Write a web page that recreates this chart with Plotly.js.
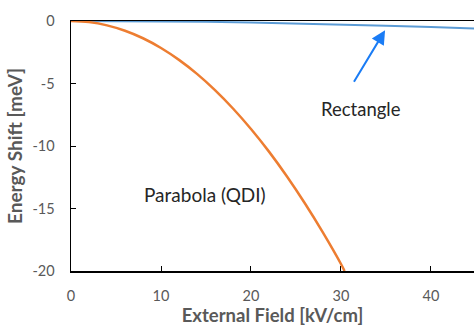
<!DOCTYPE html>
<html>
<head>
<meta charset="utf-8">
<script src="https://cdn.plot.ly/plotly-3.0.1.min.js"></script>
<style>html,body{margin:0;padding:0;background:#fff;}#chart{width:474px;height:327px;}</style>
</head>
<body>
<div id="chart"></div>
<script>
// External field [kV/cm]
const fieldParabola = [0, 2, 4, 6, 8, 10, 12, 14, 16, 18, 20, 22, 24, 26, 28, 30, 30.4];
// Energy shift [meV], parabolic (QDI) well
const shiftParabola = [0, -0.09, -0.35, -0.78, -1.38, -2.16, -3.11, -4.23, -5.53, -7.0, -8.64, -10.45, -12.44, -14.6, -16.93, -19.44, -20.0];
const fieldRectangle = [0, 5, 10, 15, 20, 25, 30, 35, 40, 45, 50];
// Energy shift [meV], rectangular well
const shiftRectangle = [0, -0.008, -0.03, -0.067, -0.12, -0.19, -0.27, -0.37, -0.48, -0.61, -0.75];
const xTicks = [0, 10, 20, 30, 40];
const yTicks = [0, -5, -10, -15, -20];
const yTickText = ['0', '-5', '-10', '-15', '-20'];

const gray = '#595959';
const font = 'Lato, "Open Sans", sans-serif';

const traces = [
  {x: fieldRectangle, y: shiftRectangle, mode: 'lines', line: {color: '#5b9bd5', width: 2}, showlegend: false},
  {x: fieldParabola, y: shiftParabola, mode: 'lines', line: {color: '#ed7d31', width: 2.5, shape: 'spline'}, showlegend: false}
];

const layout = {
  width: 474, height: 327,
  margin: {l: 71, r: 0, t: 21, b: 56, pad: 0},
  paper_bgcolor: '#fff', plot_bgcolor: '#fff',
  font: {family: font, color: gray, size: 14},
  xaxis: {
    range: [0, 44.78], tickvals: xTicks, ticks: 'inside', ticklen: 5, tickcolor: '#000',
    showline: true, linecolor: '#000', linewidth: 1.5, mirror: true, showgrid: false, zeroline: false,
    layer: 'below traces', ticklabelstandoff: 11,
    tickfont: {family: font, size: 14.5, color: gray},
    title: {text: 'External Field [kV/cm]', font: {family: font, size: 18.5, color: gray, weight: 'bold'}, standoff: 4}
  },
  yaxis: {
    range: [-20, 0], tickvals: yTicks, ticktext: yTickText, ticks: 'inside', ticklen: 5, tickcolor: '#000',
    showline: true, linecolor: '#000', linewidth: 1.5, showgrid: false, zeroline: false,
    layer: 'below traces', ticklabelstandoff: 12,
    tickfont: {family: font, size: 14.5, color: gray},
    title: {text: 'Energy Shift [meV]', font: {family: font, size: 19, color: gray, weight: 'bold'}, standoff: 4}
  },
  annotations: [
    {x: 34.9, y: -0.74, xref: 'x', yref: 'y', ax: -32, ay: 53, text: '', showarrow: true,
     arrowhead: 2, arrowsize: 1.4, arrowwidth: 2, arrowcolor: '#1a7cf5'},
    {x: 32.2, y: -7.0, xref: 'x', yref: 'y', text: 'Rectangle', showarrow: false,
     font: {family: font, size: 18.5, color: '#262626'}},
    {x: 14.9, y: -13.9, xref: 'x', yref: 'y', text: 'Parabola (QDI)', showarrow: false,
     font: {family: font, size: 19, color: '#262626'}}
  ]
};

Plotly.newPlot('chart', traces, layout, {staticPlot: true, displayModeBar: false});
</script>
</body>
</html>
